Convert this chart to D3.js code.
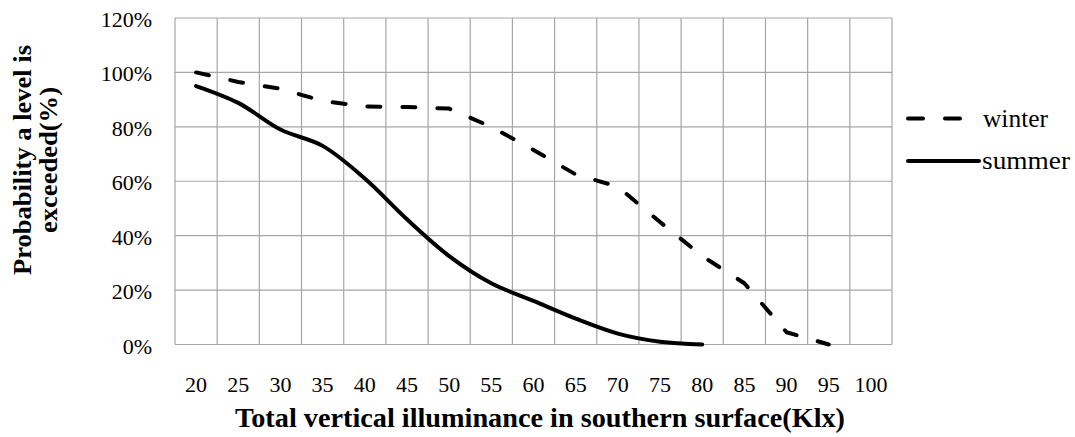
<!DOCTYPE html>
<html>
<head>
<meta charset="utf-8">
<script src="https://cdn.jsdelivr.net/npm/d3@7"></script>
<style>
  html, body { margin: 0; padding: 0; background: #fff; }
  svg { display: block; }
  text { font-family: "Liberation Serif", "Times New Roman", serif; fill: #000; }
</style>
</head>
<body>
<svg id="chart" width="1075" height="437"></svg>
<script>
const categories = ["20","25","30","35","40","45","50","55","60","65","70","75","80","85","90","95","100"];
const winter = [100, 96.5, 94, 89.5, 87.5, 87.3, 86.7, 80, 71.5, 62.5, 58, 45, 32.5, 22.5, 4.5, 0, null];
const summer = [95, 88.8, 79, 73, 61, 46, 32.5, 22.5, 16, 9.5, 4, 1, 0, null, null, null, null];
const yTicks = [0, 20, 40, 60, 80, 100, 120];
const seriesNames = ["winter", "summer"];

const svg = d3.select("#chart");
const pL = 175, pR = 892, pT = 18, pB = 344.5;
const grid = "#a6a6a6";

const x = d3.scaleBand().domain(categories).range([pL, pR]).padding(0);
const y = d3.scaleLinear().domain([0, 120]).range([pB, pT]);

// horizontal gridlines
svg.append("g").selectAll("line").data(yTicks).join("line")
  .attr("x1", pL).attr("x2", pR)
  .attr("y1", d => y(d)).attr("y2", d => y(d))
  .attr("stroke", grid).attr("stroke-width", 1.2);

// vertical gridlines at category boundaries
const bounds = categories.map(c => x(c)).concat([x(categories[categories.length-1]) + x.bandwidth()]);
svg.append("g").selectAll("line").data(bounds).join("line")
  .attr("x1", d => d).attr("x2", d => d)
  .attr("y1", pT).attr("y2", pB)
  .attr("stroke", grid).attr("stroke-width", 1.2);

// y tick labels
svg.append("g").selectAll("text").data(yTicks).join("text")
  .attr("x", 152).attr("y", d => y(d) + 9)
  .attr("text-anchor", "end")
  .style("font-size", "22px")
  .text(d => d + "%");

// x tick labels
svg.append("g").selectAll("text").data(categories).join("text")
  .attr("x", d => x(d) + x.bandwidth()/2).attr("y", 392)
  .attr("text-anchor", "middle")
  .style("font-size", "22px")
  .text(d => d);

// x title
svg.append("text")
  .attr("x", 540).attr("y", 427)
  .attr("text-anchor", "middle")
  .style("font-size", "27px").style("font-weight", "bold")
  .attr("textLength", 610).attr("lengthAdjust", "spacingAndGlyphs")
  .text("Total vertical illuminance in southern surface(Klx)");

// y title (two lines)
const yt = svg.append("g").attr("transform", "translate(0,160) rotate(-90)");
yt.append("text").attr("x", 0).attr("y", 31).attr("text-anchor", "middle")
  .style("font-size", "26px").style("font-weight", "bold")
  .attr("textLength", 230).attr("lengthAdjust", "spacingAndGlyphs")
  .text("Probability a level is");
yt.append("text").attr("x", 0).attr("y", 57).attr("text-anchor", "middle")
  .style("font-size", "26px").style("font-weight", "bold")
  .attr("textLength", 146).attr("lengthAdjust", "spacingAndGlyphs")
  .text("exceeded(%)");

const cx = (d, i) => x(categories[i]) + x.bandwidth()/2;

const winterLine = d3.line()
  .defined(d => d !== null)
  .x(cx).y(d => y(d))
  .curve(d3.curveLinear);
const summerLine = d3.line()
  .defined(d => d !== null)
  .x(cx).y(d => y(d))
  .curve(d3.curveCatmullRom.alpha(0.5));

svg.append("path").attr("d", winterLine(winter))
  .attr("fill", "none").attr("stroke", "#000").attr("stroke-width", 4)
  .attr("stroke-linecap", "round").attr("stroke-linejoin", "round")
  .attr("stroke-dasharray", "13,22");
svg.append("path").attr("d", summerLine(summer))
  .attr("fill", "none").attr("stroke", "#000").attr("stroke-width", 4)
  .attr("stroke-linecap", "round").attr("stroke-linejoin", "round");

// legend
const lg = svg.append("g");
lg.append("line").attr("x1", 908).attr("x2", 962).attr("y1", 118.5).attr("y2", 118.5)
  .attr("stroke", "#000").attr("stroke-width", 4).attr("stroke-linecap", "round")
  .attr("stroke-dasharray", "15,22");
lg.append("line").attr("x1", 908).attr("x2", 979).attr("y1", 161).attr("y2", 161)
  .attr("stroke", "#000").attr("stroke-width", 4).attr("stroke-linecap", "round");
lg.append("text").attr("x", 983).attr("y", 127).style("font-size", "25px")
  .attr("textLength", 65).attr("lengthAdjust", "spacingAndGlyphs").text(seriesNames[0]);
lg.append("text").attr("x", 982).attr("y", 169).style("font-size", "25px")
  .attr("textLength", 88).attr("lengthAdjust", "spacingAndGlyphs").text(seriesNames[1]);
</script>
</body>
</html>
